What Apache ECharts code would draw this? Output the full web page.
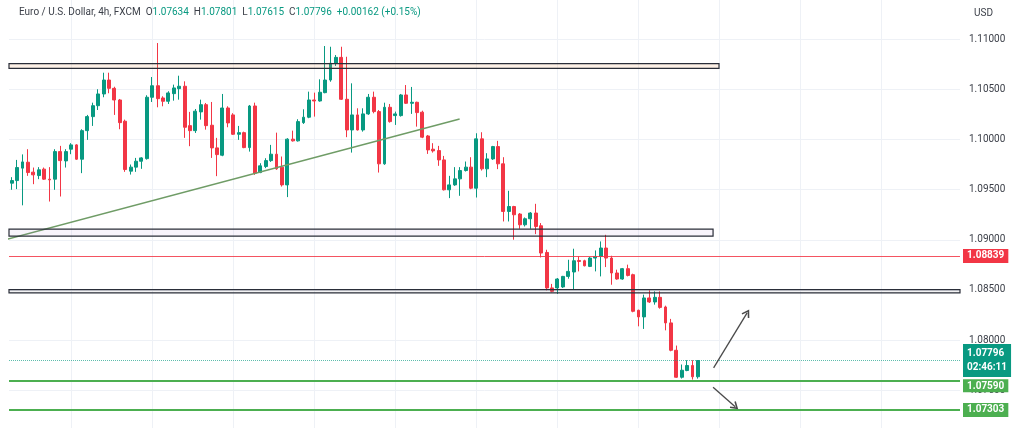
<!DOCTYPE html>
<html><head><meta charset="utf-8">
<script src="https://cdn.jsdelivr.net/npm/echarts@6/dist/echarts.min.js"></script>
<style>html,body{margin:0;padding:0;background:#fff}#c{width:1024px;height:428px}</style>
</head><body><div id="c"></div>
<script>
// ---------- data ----------
const symbolName = 'Euro / U.S. Dollar, 4h, FXCM';
const currency = 'USD';
const countdown = '02:46:11';
const slotCount = 176;            // candle slots incl. empty right margin
// [open, close, low, high]
const candles = [
[1.09565,1.09591,1.09499,1.09625],[1.09591,1.09721,1.09506,1.09797],[1.09715,1.09777,1.09344,1.09852],[1.09774,1.09671,1.09638,1.09904],
[1.09675,1.09648,1.09555,1.09721],[1.09641,1.09698,1.09605,1.09725],[1.09705,1.09605,1.09598,1.09721],[1.09605,1.09598,1.09382,1.09725],
[1.09605,1.09880,1.09499,1.09904],[1.09880,1.09790,1.09432,1.09937],[1.09787,1.09880,1.09721,1.09904],[1.09904,1.09947,1.09854,1.09964],
[1.09947,1.09804,1.09797,1.09954],[1.09804,1.10089,1.09665,1.10103],[1.10089,1.10229,1.09997,1.10246],[1.10229,1.10338,1.10136,1.10368],
[1.10338,1.10455,1.10295,1.10502],[1.10455,1.10594,1.10422,1.10667],[1.10594,1.10511,1.10462,1.10667],[1.10511,1.10395,1.10246,1.10527],
[1.10395,1.10169,1.10103,1.10405],[1.10183,1.09701,1.09678,1.10199],[1.09685,1.09725,1.09651,1.09751],[1.09725,1.09784,1.09678,1.09817],
[1.09784,1.09817,1.09708,1.09824],[1.09810,1.10422,1.09800,1.10442],[1.10422,1.10537,1.10375,1.10624],[1.10537,1.10408,1.10322,1.10963],
[1.10415,1.10382,1.10332,1.10432],[1.10382,1.10465,1.10355,1.10482],[1.10458,1.10515,1.10388,1.10548],[1.10508,1.10532,1.10398,1.10637],
[1.10532,1.10123,1.10017,1.10581],[1.10139,1.10089,1.09934,1.10276],[1.10089,1.10283,1.10066,1.10305],[1.10276,1.10348,1.10199,1.10398],
[1.10348,1.10139,1.10099,1.10365],[1.10143,1.09917,1.09817,1.10375],[1.09917,1.09850,1.09635,1.10017],[1.09844,1.10315,1.09834,1.10455],
[1.10315,1.10166,1.10123,1.10332],[1.10246,1.10053,1.10046,1.10263],[1.10053,1.10069,1.09997,1.10136],[1.10069,1.09920,1.09914,1.10079],
[1.09920,1.10335,1.09880,1.10345],[1.10335,1.09665,1.09648,1.10368],[1.09671,1.09738,1.09665,1.09764],[1.09731,1.09790,1.09715,1.09814],
[1.09790,1.09854,1.09777,1.09947],[1.09854,1.09708,1.09698,1.10069],[1.09725,1.09548,1.09531,1.09831],[1.09548,1.10004,1.09426,1.10014],
[1.10004,1.09987,1.09980,1.10089],[1.09987,1.10179,1.09980,1.10203],[1.10169,1.10223,1.10156,1.10302],[1.10223,1.10395,1.10213,1.10478],
[1.10395,1.10385,1.10229,1.10468],[1.10385,1.10472,1.10378,1.10601],[1.10468,1.10594,1.10462,1.10933],[1.10594,1.10761,1.10577,1.10926],
[1.10761,1.10820,1.10734,1.10843],[1.10820,1.10402,1.10395,1.10926],[1.10402,1.10096,1.10024,1.10826],[1.10096,1.10246,1.09870,1.10561],
[1.10246,1.10096,1.10090,1.10312],[1.10096,1.10256,1.10079,1.10312],[1.10256,1.10422,1.10246,1.10455],[1.10422,1.10279,1.10262,1.10478],
[1.10279,1.09758,1.09671,1.10295],[1.09758,1.10322,1.09748,1.10368],[1.10322,1.10179,1.10169,1.10355],[1.10239,1.10256,1.10146,1.10279],
[1.10239,1.10445,1.10229,1.10455],[1.10445,1.10362,1.10355,1.10544],[1.10362,1.10372,1.10256,1.10525],[1.10372,1.10269,1.10129,1.10378],
[1.10273,1.10024,1.10014,1.10288],[1.10036,1.09897,1.09857,1.10046],[1.09904,1.09887,1.09870,1.09964],[1.09890,1.09797,1.09738,1.09937],
[1.09797,1.09499,1.09492,1.09837],[1.09499,1.09548,1.09416,1.09638],[1.09548,1.09608,1.09538,1.09725],[1.09608,1.09691,1.09439,1.09725],
[1.09691,1.09725,1.09681,1.09781],[1.09725,1.09515,1.09505,1.09824],[1.09515,1.10007,1.09422,1.10063],[1.10007,1.09708,1.09691,1.10073],
[1.09708,1.09807,1.09625,1.09864],[1.09807,1.09930,1.09797,1.09937],[1.09930,1.09758,1.09705,1.09987],[1.09758,1.09283,1.09183,1.09824],
[1.09283,1.09332,1.09183,1.09489],[1.09332,1.09250,1.09001,1.09339],[1.09257,1.09150,1.09110,1.09267],[1.09150,1.09210,1.09133,1.09223],
[1.09210,1.09267,1.09110,1.09277],[1.09267,1.09133,1.09057,1.09359],[1.09140,1.08868,1.08824,1.09167],[1.08874,1.08520,1.08496,1.08901],
[1.08520,1.08486,1.08476,1.08560],[1.08520,1.08609,1.08460,1.08619],[1.08530,1.08635,1.08520,1.08640],[1.08635,1.08685,1.08612,1.08801],
[1.08679,1.08791,1.08503,1.08911],[1.08794,1.08784,1.08685,1.08834],[1.08791,1.08741,1.08735,1.08801],[1.08735,1.08818,1.08728,1.08828],
[1.08818,1.08834,1.08685,1.08894],[1.08834,1.08918,1.08635,1.08984],[1.08918,1.08818,1.08728,1.09050],[1.08818,1.08669,1.08552,1.08841],
[1.08669,1.08609,1.08602,1.08702],[1.08609,1.08712,1.08602,1.08719],[1.08712,1.08645,1.08635,1.08752],[1.08652,1.08287,1.08277,1.08662],
[1.08297,1.08231,1.08137,1.08303],[1.08231,1.08420,1.08111,1.08453],[1.08420,1.08380,1.08370,1.08496],[1.08380,1.08426,1.08353,1.08486],
[1.08426,1.08326,1.08313,1.08486],[1.08330,1.08171,1.08097,1.08343],[1.08171,1.07898,1.07888,1.08211],[1.07898,1.07629,1.07623,1.07945],
[1.07629,1.07699,1.07616,1.07756],[1.07696,1.07746,1.07689,1.07799],[1.07746,1.07634,1.07606,1.07799],[1.07634,1.07796,1.07615,1.07801]
];
const redLevel = 1.08839;
const supportLevels = [1.07590, 1.07303];
// boxes: [xStart, xEnd, top, bottom] in candle-index / price units
const boxTop = [-1, 130.9, 1.10757, 1.10711];
const boxMid = [-1, 129.8, 1.09107, 1.09037];
const boxLow = [-1, 175.5, 1.08503, 1.08470];
const trendLine = [[-0.7, 1.09008], [82.9, 1.10206]];
const arrowUp = [[129.9, 1.07723], [136.1, 1.08271]];
const arrowDown = [[129.8, 1.07530], [133.9, 1.07335]];

// ---------- derived ----------
const categories = Array.from({length: slotCount}, (_, i) => String(i));
const last = candles[candles.length - 1];
const prevClose = candles[candles.length - 2][1];
const fmt = v => v.toFixed(5);
const chg = last[1] - prevClose;
const pct = chg / prevClose * 100;
const sign = v => (v >= 0 ? '+' : '');
const header = `{n|${symbolName}}  {k|O}{v|${fmt(last[0])}}  {k|H}{v|${fmt(last[3])}}  {k|L}{v|${fmt(last[2])}}  {k|C}{v|${fmt(last[1])}}  {v|${sign(chg)}${fmt(chg)} (${sign(pct)}${pct.toFixed(2)}%)}`;
const gridXs = [];
for (let i = 11; i < slotCount; i += 15) gridXs.push(i);

const UP = '#089981', DOWN = '#f23645', GREEN = '#4caf50';
const FONT = 'Roboto, "Open Sans", sans-serif';
const chevron = 'path://M5,0 L10,8 L8.6,9 L5,3.4 L1.4,9 L0,8 Z';

const tag = (bg) => ({show: true, position: 'end', distance: 3, color: '#fff', backgroundColor: bg,
  padding: [2, 4, 1, 4], fontSize: 10, lineHeight: 11, fontWeight: 'bold', fontFamily: FONT});
const boxItem = (b, fill, border) => [
  {coord: [b[0], b[2]], itemStyle: {color: fill, borderColor: border, borderWidth: 1.2}},
  {coord: [b[1], b[3]]}
];
const arrowItem = (a) => [
  {coord: a[0], symbol: 'none', lineStyle: {color: '#4a4a4a', width: 1.3, type: 'solid'}},
  {coord: a[1], symbol: chevron, symbolSize: [9, 8]}
];

const chart = echarts.init(document.getElementById('c'), null, {renderer: 'canvas'});
chart.setOption({
  animation: false,
  backgroundColor: '#ffffff',
  textStyle: {fontFamily: FONT},
  title: [
    {left: 14, top: 2, text: header, textStyle: {fontSize: 10, fontWeight: 'normal', fontFamily: FONT,
      rich: {n: {color: '#3b3f48', fontSize: 10, fontFamily: FONT}, k: {color: '#3b3f48', fontSize: 10, fontFamily: FONT},
             v: {color: UP, fontSize: 10, fontFamily: FONT}}}},
    {left: 969, top: 3, text: currency, textStyle: {fontSize: 10, fontWeight: 'normal', color: '#3b3f48', fontFamily: FONT}}
  ],
  grid: {left: 9, right: 64, top: -10.8, bottom: -12.3, outerBoundsMode: 'none', containLabel: false},
  xAxis: [
    {type: 'category', data: categories, boundaryGap: true, axisLine: {show: false}, axisTick: {show: false},
     axisLabel: {show: false}, splitLine: {show: false}},
    {type: 'value', min: -0.5, max: slotCount - 0.5, show: false}
  ],
  yAxis: {type: 'value', position: 'right', min: 1.07, max: 1.115, interval: 0.005,
    axisLine: {show: false}, axisTick: {show: false},
    axisLabel: {margin: 9, color: '#3b3f48', fontSize: 10, fontFamily: FONT, formatter: v => v.toFixed(5)},
    splitLine: {show: true, lineStyle: {color: '#eef1f6', width: 1}}},
  series: [
    {type: 'line', xAxisIndex: 1, data: [], silent: true, z: 1,
     markLine: {silent: true, z: 1, precision: 6, symbol: ['none', 'none'], label: {show: false},
       lineStyle: {color: '#eef1f6', width: 1, type: 'solid'},
       data: gridXs.map(x => ({xAxis: x}))}},
    {type: 'candlestick', xAxisIndex: 0, data: candles, barWidth: 3.4, silent: true, z: 2,
     itemStyle: {color: UP, color0: DOWN, borderColor: UP, borderColor0: DOWN, borderWidth: 1}},
    {type: 'line', xAxisIndex: 1, data: trendLine, symbol: 'none', silent: true, z: 3,
     lineStyle: {color: '#6f9c66', width: 1.5},
     markArea: {silent: true, z: 4, precision: 6, data: [
       boxItem(boxTop, 'rgba(245,160,100,0.16)', '#2a2e39'),
       boxItem(boxMid, 'rgba(170,120,200,0.08)', '#2a2e39'),
       boxItem(boxLow, 'rgba(150,150,160,0.12)', '#2a2e39')
     ]},
     markLine: {silent: true, z: 5, precision: 6, symbol: ['none', 'none'], label: {show: false},
       data: [
         {yAxis: redLevel, lineStyle: {color: 'rgba(242,54,69,0.85)', width: 1, type: 'solid'},
          label: Object.assign(tag(DOWN), {formatter: fmt(redLevel)})},
         {yAxis: last[1], lineStyle: {color: 'rgba(8,153,129,0.65)', width: 1, type: 'dotted'},
          label: Object.assign(tag(UP), {formatter: fmt(last[1]) + '\n' + countdown, lineHeight: 14, padding: [3, 4, 2, 4]})},
         {yAxis: supportLevels[0], lineStyle: {color: GREEN, width: 2, type: 'solid'},
          label: {show: true, position: 'end', distance: 3, formatter: '{g| }\n{t|' + fmt(supportLevels[0]) + '}',
            rich: {g: {height: 9, lineHeight: 9, fontSize: 6, color: 'transparent'},
                   t: {color: '#fff', backgroundColor: GREEN, padding: [2, 4, 1, 4], fontSize: 10, lineHeight: 11, fontWeight: 'bold', fontFamily: FONT}}}},
         {yAxis: supportLevels[1], lineStyle: {color: GREEN, width: 2, type: 'solid'},
          label: Object.assign(tag(GREEN), {formatter: fmt(supportLevels[1])})},
         arrowItem(arrowUp),
         arrowItem(arrowDown)
       ]}}
  ]
});
</script></body></html>
